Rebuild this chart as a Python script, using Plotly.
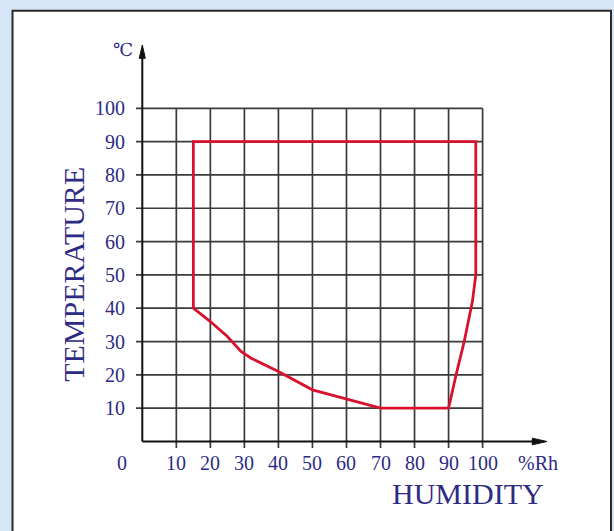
import plotly.graph_objects as go

# ---- data ----
x_ticks = [10, 20, 30, 40, 50, 60, 70, 80, 90, 100]
y_ticks = [10, 20, 30, 40, 50, 60, 70, 80, 90, 100]
x_tick_labels = ["10", "20", "30", "40", "50", "60", "70", "80", "90", "100"]
y_tick_labels = ["10", "20", "30", "40", "50", "60", "70", "80", "90", "100"]

humidity = [15, 15, 98, 98, 97, 94.6, 92.2, 90, 70, 60, 50, 40, 32, 29, 25, 20, 15]
temperature = [40, 90, 90, 50, 42, 30, 20, 10, 10, 12.7, 15.5, 21, 25, 27, 31.5, 36, 40]

x_title = "HUMIDITY"
y_title = "TEMPERATURE"
x_unit = "%Rh"
y_unit = "℃"

# ---- styling ----
W, H = 614, 531
X0_PX, X_PX_PER = 142.3, 3.403
Y0_PX, Y_PX_PER = 441.5, 3.332
BG = "#d5e6f6"
TEXT_COLOR = "#2e2b84"
GRID_COLOR = "#3a3a3a"
RED = "#d8122e"
FONT = "Liberation Serif, Times New Roman, serif"

x_range = [-X0_PX / X_PX_PER, (W - X0_PX) / X_PX_PER]
y_range = [(Y0_PX - H) / Y_PX_PER, Y0_PX / Y_PX_PER]

fig = go.Figure()

# grid
gx, gy = [], []
ext_left = -1.85
ext_down = -1.95
for v in x_ticks:
    gx += [v, v, None]
    gy += [ext_down, 100, None]
for v in y_ticks:
    gx += [ext_left, 100, None]
    gy += [v, v, None]
fig.add_trace(go.Scatter(x=gx, y=gy, mode="lines", line=dict(color=GRID_COLOR, width=1.7),
                         hoverinfo="skip", showlegend=False))

# axes with arrows
fig.add_trace(go.Scatter(x=[0, 0, None, 0, 115.5], y=[0, 115.5, None, 0, 0], mode="lines",
                         line=dict(color="#111111", width=2), hoverinfo="skip", showlegend=False))
fig.add_trace(go.Scatter(x=[-0.9, 0, 0.9, -0.9], y=[115.0, 119.0, 115.0, 115.0], mode="lines",
                         fill="toself", fillcolor="#111111", line=dict(color="#111111", width=1),
                         hoverinfo="skip", showlegend=False))
fig.add_trace(go.Scatter(x=[114.6, 118.9, 114.6, 114.6], y=[-1.0, 0, 1.0, -1.0], mode="lines",
                         fill="toself", fillcolor="#111111", line=dict(color="#111111", width=1),
                         hoverinfo="skip", showlegend=False))

# red envelope
fig.add_trace(go.Scatter(x=humidity, y=temperature, mode="lines",
                         line=dict(color=RED, width=2.8), hoverinfo="skip", showlegend=False))

LBL = 20
ann = []
for v, t in zip(y_ticks, y_tick_labels):
    ann.append(dict(x=-4.6, y=v, text=t, xanchor="right", yanchor="middle", showarrow=False,
                    font=dict(family=FONT, size=LBL, color=TEXT_COLOR)))
for v, t in zip(x_ticks, x_tick_labels):
    ann.append(dict(x=v, y=-6.45, text=t, xanchor="center", yanchor="middle", showarrow=False,
                    font=dict(family=FONT, size=LBL, color=TEXT_COLOR)))
ann.append(dict(x=-6.0, y=-6.45, text="0", xanchor="center", yanchor="middle", showarrow=False,
                font=dict(family=FONT, size=LBL, color=TEXT_COLOR)))
ann.append(dict(x=116.3, y=-6.45, text=x_unit, xanchor="center", yanchor="middle", showarrow=False,
                font=dict(family=FONT, size=LBL, color=TEXT_COLOR)))
ann.append(dict(x=-5.7, y=117.6, text=y_unit, xanchor="center", yanchor="middle", showarrow=False,
                font=dict(family="DejaVu Serif, Liberation Serif", size=18, color=TEXT_COLOR)))
ann.append(dict(x=95.6, y=-15.5, text=x_title, xanchor="center", yanchor="middle", showarrow=False,
                font=dict(family=FONT, size=30, color=TEXT_COLOR)))
ann.append(dict(x=-20.1, y=50.3, text=y_title, xanchor="center", yanchor="middle", showarrow=False,
                textangle=-90, font=dict(family=FONT, size=30, color=TEXT_COLOR)))

fig.update_layout(
    width=W, height=H,
    margin=dict(l=0, r=0, t=0, b=0, pad=0),
    paper_bgcolor=BG,
    plot_bgcolor="rgba(0,0,0,0)",
    xaxis=dict(range=x_range, visible=False, fixedrange=True),
    yaxis=dict(range=y_range, visible=False, fixedrange=True),
    annotations=ann,
    shapes=[dict(type="rect", xref="paper", yref="paper",
                 x0=12.5 / W, x1=611 / W, y0=-0.05, y1=1 - 10.7 / H,
                 fillcolor="white", line=dict(color="#2a2a2a", width=2), layer="below")],
    showlegend=False,
)

fig.write_html(
    "out.html",
    config={"displayModeBar": False},
    post_script="document.body.style.margin='0';document.body.style.overflow='hidden';"
                "document.body.style.background='" + BG + "';",
)
